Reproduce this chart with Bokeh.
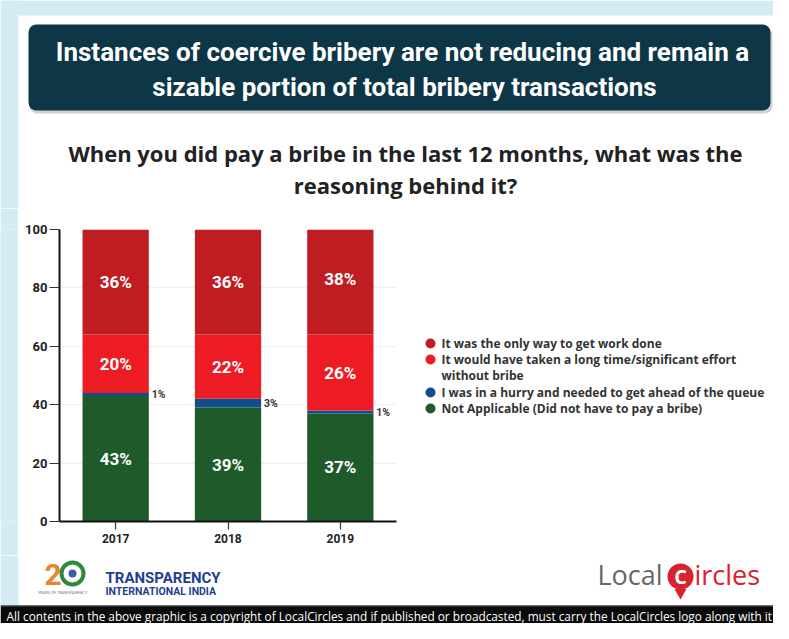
import numpy as np
from bokeh.plotting import figure
from bokeh.layouts import column, row
from bokeh.models import Range1d, FactorRange, ColumnDataSource, BoxAnnotation, FixedTicker
from bokeh.core.properties import value
from bokeh.embed import file_html
from bokeh.resources import INLINE

# ---------------- data ----------------
years = ["2017", "2018", "2019"]
not_applicable = [43, 39, 37]
hurry = [1, 3, 1]
long_time = [20, 22, 26]
only_way = [36, 36, 38]
series_labels = [
    "It was the only way to get work done",
    "It would have taken a long time/significant effort\nwithout bribe",
    "I was in a hurry and needed to get ahead of the queue",
    "Not Applicable (Did not have to pay a bribe)",
]
y_ticks = [0, 20, 40, 60, 80, 100]
title_lines = ["Instances of coercive bribery are not reducing and remain a",
               "sizable portion of total bribery transactions"]
subtitle_lines = ["When you did pay a bribe in the last 12 months, what was the",
                  "reasoning behind it?"]
footer_text = ("All contents in the above graphic is a copyright of LocalCircles and if published "
               "or broadcasted, must carry the LocalCircles logo along with it")

# ---------------- styles ----------------
W = 773
BG = "#d6ecf4"
DARK = "#c01d23"
RED = "#ed1c24"
BLUE = "#124d8e"
GREEN = "#1f5a2b"
NAVY = "#0d3646"


def canvas(w, h, bg="white", **kw):
    opts = dict(min_border=0)
    opts.update(kw)
    p = figure(width=w, height=h, x_range=Range1d(0, w), y_range=Range1d(0, h),
               output_backend="svg", toolbar_location=None,
               x_axis_location=None, y_axis_location=None,
               background_fill_color=bg, border_fill_color=bg,
               outline_line_color=None, **opts)
    p.grid.visible = False
    return p


def box(p, l, r, b, t, color, alpha=1.0, radius=0):
    p.add_layout(BoxAnnotation(left=l, right=r, bottom=b, top=t, fill_color=color,
                               fill_alpha=alpha, line_color=None, border_radius=radius,
                               level="underlay"))


# ---------------- header ----------------
HH = 208
hdr = canvas(W, HH)
hx = lambda px: px
hy = lambda py: HH - py
box(hdr, 0, W, hy(15), HH, BG)
box(hdr, 0, hx(18), 0, HH, BG)
box(hdr, hx(29), hx(772), hy(113), hy(26), "#000000", 0.18, 8)
box(hdr, hx(28), hx(770), hy(110), hy(24), NAVY, 1.0, 8)
hdr.text(x=[hx(402), hx(404)], y=[hy(51), hy(86)], text=title_lines,
         text_align="center", text_baseline="middle", text_color="white",
         text_font=value("Roboto"), text_font_style="bold", text_font_size="26px")
hdr.text(x=[hx(405), hx(405)], y=[hy(152), hy(184)], text=subtitle_lines,
         text_align="center", text_baseline="middle", text_color="#222222",
         text_font=value("Open Sans"), text_font_style="bold", text_font_size="22px")

# ---------------- middle row ----------------
MT = 208
MH = 347
FT, FB = 21, 34          # frame borders shared by the row (frames are aligned)
strip = canvas(18, MH, bg=BG, min_border_top=FT, min_border_bottom=FB)
strip.scatter(x=[5], y=[5], size=0, alpha=0)

src = ColumnDataSource(dict(year=years, na=not_applicable, hurry=hurry,
                            long=long_time, only=only_way))
chart = figure(width=387, height=MH, x_range=FactorRange(*years),
               y_range=Range1d(0, 100), output_backend="svg", toolbar_location=None,
               min_border_left=41, min_border_right=9, min_border_top=FT,
               min_border_bottom=FB, outline_line_color=None,
               background_fill_color="white", border_fill_color="white")
chart.vbar_stack(["na", "hurry", "long", "only"], x="year", width=0.59,
                 color=[GREEN, BLUE, RED, DARK], line_color=None, source=src)

stack = np.array([not_applicable, hurry, long_time, only_way], dtype=float)
bottoms = np.cumsum(stack, axis=0) - stack
centers = bottoms + stack / 2
for i in (0, 2, 3):
    chart.text(x=years, y=list(centers[i]), text=[f"{v}%" for v in stack[i].astype(int)],
               text_align="center", text_baseline="middle", text_color="white",
               text_font=value("Roboto"), text_font_style="bold", text_font_size="17px")
chart.text(x=years, y=list(centers[1]), text=[f"{v}%" for v in hurry], x_offset=36,
           text_align="left", text_baseline="middle", text_color="#333333",
           text_font=value("Roboto"), text_font_style="bold", text_font_size="10.5px")

chart.xgrid.visible = False
chart.ygrid.grid_line_color = "#eeeeee"
chart.ygrid.ticker = FixedTicker(ticks=y_ticks)
chart.yaxis.ticker = FixedTicker(ticks=y_ticks)
for ax in (chart.xaxis, chart.yaxis):
    ax.axis_line_color = "#111111"
    ax.axis_line_width = 2
    ax.major_label_text_font = "Roboto"
    ax.major_label_text_font_style = "bold"
    ax.major_label_text_color = "#222222"
    ax.minor_tick_line_color = None
    ax.major_tick_in = 0
    ax.major_tick_line_color = "#333333"
    ax.major_tick_line_width = 1.2
chart.yaxis.major_label_text_font_size = "13px"
chart.yaxis.major_tick_out = 10
chart.yaxis.major_label_standoff = 2
chart.xaxis.major_label_text_font_size = "12px"
chart.xaxis.major_tick_out = 8
chart.xaxis.major_label_standoff = 4

LL = 405
LWW = W - LL
leg = canvas(LWW, MH, min_border_top=FT, min_border_bottom=FB)
leg.y_range = Range1d(FB, MH - FT)
lx = lambda px: px - LL
ly = lambda py: MH - (py - MT)
row_y = [343, 359, 392, 408]
leg_colors = [DARK, RED, BLUE, GREEN]
leg.scatter(x=[lx(430)] * 4, y=[ly(v) for v in row_y], size=10,
            fill_color=leg_colors, line_color=None)
lines_x, lines_y, lines_t = [], [], []
for lab, ry in zip(series_labels, row_y):
    for j, part in enumerate(lab.split("\n")):
        lines_x.append(lx(441))
        lines_y.append(ly(ry + 16 * j))
        lines_t.append(part)
leg.text(x=lines_x, y=lines_y, text=lines_t,
         text_align="left", text_baseline="middle", text_color="#333333",
         text_font=value("Open Sans"), text_font_style="bold", text_font_size="12px")

mid = row(strip, chart, leg)

# ---------------- bottom ----------------
BT = 555
BH = 623 - BT
bot = canvas(W, BH)
bx = lambda px: px
by = lambda py: BH - (py - BT)
box(bot, 0, bx(18), by(605), BH, BG)
box(bot, 0, W, 0, by(605), "#0b0b0b")
box(bot, 0, W, by(606), by(605), "#555555")
bot.text(x=[6], y=[by(615)], text=[footer_text], text_align="left", text_baseline="middle",
         text_color="white", text_font=value("Open Sans"), text_font_size="11.8px")
# Transparency International India logo
bot.text(x=[bx(44)], y=[by(574)], text=["2"], text_align="left", text_baseline="middle",
         text_color="#e8842c", text_font=value("Roboto"), text_font_style="bold",
         text_font_size="30px")
bot.scatter(x=[bx(72)], y=[by(573)], size=22, fill_color="white", line_color="#2e8a3c",
            line_width=4)
bot.scatter(x=[bx(72)], y=[by(573)], size=8, fill_color="#3b5fa8", line_color=None)
bot.text(x=[bx(62)], y=[by(592)], text=["YEARS OF TRANSPARENCY"], text_align="center",
         text_baseline="middle", text_color="#777777", text_font=value("Roboto"),
         text_font_size="4px")
bot.text(x=[bx(105)], y=[by(577)], text=["TRANSPARENCY"], text_align="left",
         text_baseline="middle", text_color="#1e3f8f", text_font=value("Roboto"),
         text_font_style="bold", text_font_size="15px")
bot.text(x=[bx(105)], y=[by(591)], text=["INTERNATIONAL INDIA"], text_align="left",
         text_baseline="middle", text_color="#1e3f8f", text_font=value("Roboto"),
         text_font_style="bold", text_font_size="10.5px")
# LocalCircles logo
bot.text(x=[bx(597)], y=[by(574)], text=["Local"], text_align="left", text_baseline="middle",
         text_color="#666666", text_font=value("Open Sans"), text_font_size="27px")
bot.scatter(x=[bx(680)], y=[by(592)], size=12, marker="inverted_triangle",
            fill_color="#d8232c", line_color=None)
bot.scatter(x=[bx(680)], y=[by(576)], size=26, fill_color="#d8232c", line_color=None)
bot.text(x=[bx(680)], y=[by(576)], text=["C"], text_align="center", text_baseline="middle",
         text_color="white", text_font=value("Open Sans"), text_font_style="bold",
         text_font_size="20px")
bot.text(x=[bx(694)], y=[by(574)], text=["ircles"], text_align="left", text_baseline="middle",
         text_color="#d8232c", text_font=value("Open Sans"), text_font_size="27px")

layout = column(hdr, mid, bot, spacing=0)
open("out.html", "w").write(file_html(layout, INLINE))
